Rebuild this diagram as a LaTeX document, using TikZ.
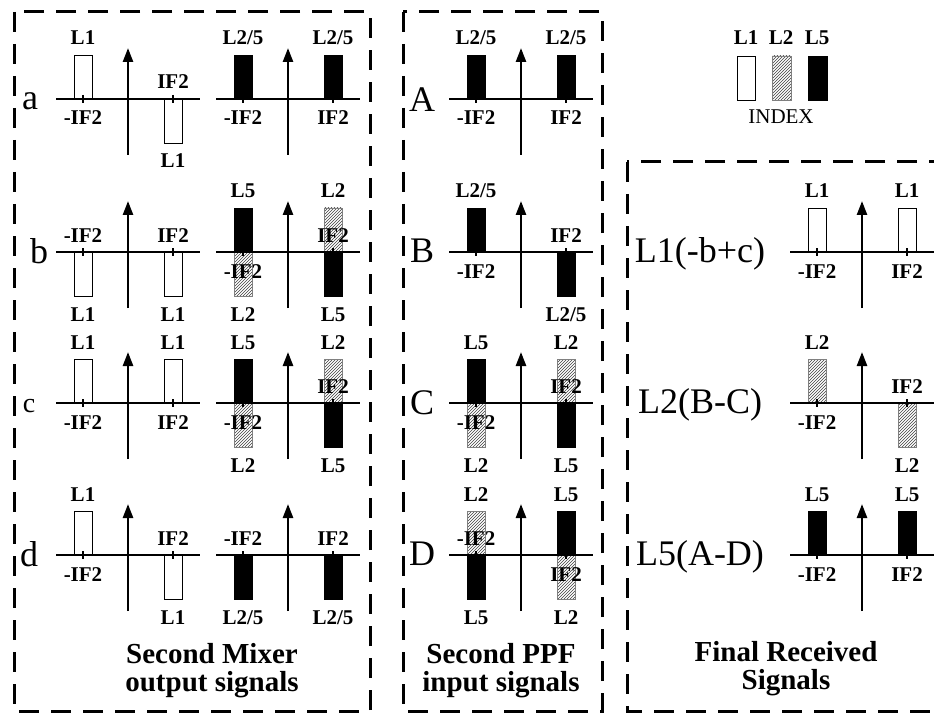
\documentclass[tikz,border=0pt]{standalone}
\usepackage{fontspec}
\setmainfont{Liberation Serif}
\usetikzlibrary{arrows.meta,patterns}

\tikzset{
  frame/.style={line width=3pt, dash pattern=on 20pt off 12pt},
  axisline/.style={line width=2.5pt},
  tickline/.style={line width=1.2pt},
  whitebar/.style={draw, line width=0.8pt, fill=white},
  hatchbar/.style={draw=gray, line width=0.8pt, pattern=north east lines, pattern color=black!75},
  blackbar/.style={draw, line width=0.8pt, fill=black},
  lab/.style={font=\bfseries\fontsize{21}{24}\selectfont, inner sep=0pt, anchor=base},
  tagtext/.style={font=\fontsize{36}{40}\selectfont, inner sep=0pt, anchor=base},
  title/.style={font=\bfseries\fontsize{29}{28}\selectfont, align=center, inner sep=0pt}
}

% axes of one spectrum: centre x, axis y
\newcommand{\drawaxes}[2]{%
  \draw[axisline] (#1-72,#2) -- (#1+72,#2);
  \draw[axisline,-{Triangle[length=14pt,width=10pt]}] (#1,#2+56) -- (#1,#2-51);
  \draw[tickline] (#1-45,#2-4) -- (#1-45,#2+4) (#1+45,#2-4) -- (#1+45,#2+4);}
% one bar with its label: name, x, axis y, 1 up / -1 down, style, text
\newcommand{\sig}[6]{%
  \draw[#5] (#2-9,#3) rectangle ({#2+9},{#3-(#4)*44});
  \node[lab] (#1) at ({#2},{#3-(#4)*61.5+7.5}) {#6};}
% frequency label: name, x, axis y, 1 above / -1 below, text
\newcommand{\ticklab}[5]{%
  \node[lab] (#1) at ({#2},{#3-(#4)*18+8}) {#5};}

\begin{document}
\begin{tikzpicture}[x=1pt,y=-1pt]
\clip (0,0) rectangle (934,722);

% boxes
\draw[frame] (14,12) rectangle (370,711);
\draw[frame] (403,12) rectangle (602,711);
\draw[frame] (627,162) rectangle (975,711);

% index
\draw[whitebar] (737,56) rectangle (755,100);
\draw[hatchbar] (772,56) rectangle (791,100);
\draw[blackbar] (808,56) rectangle (827,100);
\node[lab] (key1) at (746,45) {L1};
\node[lab] (key2) at (781,45) {L2};
\node[lab] (key5) at (817,45) {L5};
\node[font=\fontsize{21}{24}\selectfont, inner sep=0pt, anchor=base] (index) at (781,124) {INDEX};

% row a
\node[tagtext] (tag-a) at (30,110) {a};
\sig{a1}{83}{99}{1}{whitebar}{L1}
\sig{a2}{173}{99}{-1}{whitebar}{L1}
\drawaxes{128}{99}
\ticklab{a1f}{83}{99}{-1}{-IF2}
\ticklab{a2f}{173}{99}{1}{IF2}
\sig{a3}{243}{99}{1}{blackbar}{L2/5}
\sig{a4}{333}{99}{1}{blackbar}{L2/5}
\drawaxes{288}{99}
\ticklab{a3f}{243}{99}{-1}{-IF2}
\ticklab{a4f}{333}{99}{-1}{IF2}

% row b
\node[tagtext] (tag-b) at (39,263) {b};
\sig{b1}{83}{252}{-1}{whitebar}{L1}
\sig{b2}{173}{252}{-1}{whitebar}{L1}
\drawaxes{128}{252}
\ticklab{b1f}{83}{252}{1}{-IF2}
\ticklab{b2f}{173}{252}{1}{IF2}
\sig{b3}{243}{252}{1}{blackbar}{L5}
\sig{b3d}{243}{252}{-1}{hatchbar}{L2}
\sig{b4}{333}{252}{1}{hatchbar}{L2}
\sig{b4d}{333}{252}{-1}{blackbar}{L5}
\drawaxes{288}{252}
\ticklab{b3f}{243}{252}{-1}{-IF2}
\ticklab{b4f}{333}{252}{1}{IF2}

% row c
\node[tagtext, font=\fontsize{28}{32}\selectfont] (tag-c) at (29,412) {c};
\sig{c1}{83}{403}{1}{whitebar}{L1}
\sig{c2}{173}{403}{1}{whitebar}{L1}
\drawaxes{128}{403}
\ticklab{c1f}{83}{403}{-1}{-IF2}
\ticklab{c2f}{173}{403}{-1}{IF2}
\sig{c3}{243}{403}{1}{blackbar}{L5}
\sig{c3d}{243}{403}{-1}{hatchbar}{L2}
\sig{c4}{333}{403}{1}{hatchbar}{L2}
\sig{c4d}{333}{403}{-1}{blackbar}{L5}
\drawaxes{288}{403}
\ticklab{c3f}{243}{403}{-1}{-IF2}
\ticklab{c4f}{333}{403}{1}{IF2}

% row d
\node[tagtext] (tag-d) at (29,566) {d};
\sig{d1}{83}{555}{1}{whitebar}{L1}
\sig{d2}{173}{555}{-1}{whitebar}{L1}
\drawaxes{128}{555}
\ticklab{d1f}{83}{555}{-1}{-IF2}
\ticklab{d2f}{173}{555}{1}{IF2}
\sig{d3}{243}{555}{-1}{blackbar}{L2/5}
\sig{d4}{333}{555}{-1}{blackbar}{L2/5}
\drawaxes{288}{555}
\ticklab{d3f}{243}{555}{1}{-IF2}
\ticklab{d4f}{333}{555}{1}{IF2}

% second PPF input
\node[tagtext] (tag-A) at (422,112) {A};
\sig{A1}{476}{99}{1}{blackbar}{L2/5}
\sig{A2}{566}{99}{1}{blackbar}{L2/5}
\drawaxes{521}{99}
\ticklab{A1f}{476}{99}{-1}{-IF2}
\ticklab{A2f}{566}{99}{-1}{IF2}

\node[tagtext] (tag-B) at (422,262) {B};
\sig{B1}{476}{252}{1}{blackbar}{L2/5}
\sig{B2}{566}{252}{-1}{blackbar}{L2/5}
\drawaxes{521}{252}
\ticklab{B1f}{476}{252}{-1}{-IF2}
\ticklab{B2f}{566}{252}{1}{IF2}

\node[tagtext] (tag-C) at (422,414) {C};
\sig{C1}{476}{403}{1}{blackbar}{L5}
\sig{C1d}{476}{403}{-1}{hatchbar}{L2}
\sig{C2}{566}{403}{1}{hatchbar}{L2}
\sig{C2d}{566}{403}{-1}{blackbar}{L5}
\drawaxes{521}{403}
\ticklab{C1f}{476}{403}{-1}{-IF2}
\ticklab{C2f}{566}{403}{1}{IF2}

\node[tagtext] (tag-D) at (422,565) {D};
\sig{D1}{476}{555}{1}{hatchbar}{L2}
\sig{D1d}{476}{555}{-1}{blackbar}{L5}
\sig{D2}{566}{555}{1}{blackbar}{L5}
\sig{D2d}{566}{555}{-1}{hatchbar}{L2}
\drawaxes{521}{555}
\ticklab{D1f}{476}{555}{1}{-IF2}
\ticklab{D2f}{566}{555}{-1}{IF2}

% final received
\node[tagtext] (tag-L1) at (700,262) {L1(-b+c)};
\sig{F1}{817}{252}{1}{whitebar}{L1}
\sig{F2}{907}{252}{1}{whitebar}{L1}
\drawaxes{862}{252}
\ticklab{F1f}{817}{252}{-1}{-IF2}
\ticklab{F2f}{907}{252}{-1}{IF2}

\node[tagtext] (tag-L2) at (700,413) {L2(B-C)};
\sig{G1}{817}{403}{1}{hatchbar}{L2}
\sig{G2}{907}{403}{-1}{hatchbar}{L2}
\drawaxes{862}{403}
\ticklab{G1f}{817}{403}{-1}{-IF2}
\ticklab{G2f}{907}{403}{1}{IF2}

\node[tagtext] (tag-L5) at (700,565) {L5(A-D)};
\sig{H1}{817}{555}{1}{blackbar}{L5}
\sig{H2}{907}{555}{1}{blackbar}{L5}
\drawaxes{862}{555}
\ticklab{H1f}{817}{555}{-1}{-IF2}
\ticklab{H2f}{907}{555}{-1}{IF2}

% titles
\node[title] (mixer) at (212,671) {Second Mixer\\output signals};
\node[title] (ppf) at (501,671) {Second PPF\\input signals};
\node[title] (final) at (786,669) {Final Received\\Signals};
\end{tikzpicture}
\end{document}
